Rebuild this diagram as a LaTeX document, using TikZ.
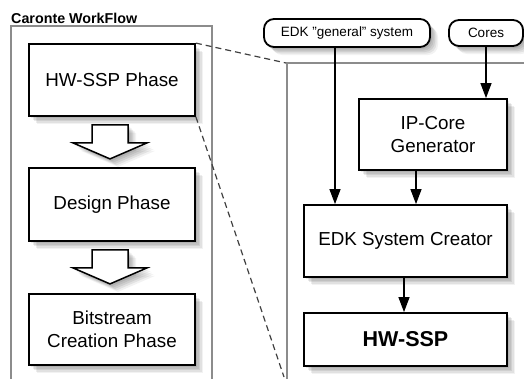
\documentclass[tikz,border=0pt]{standalone}
\usepackage{fontspec}
\setmainfont{Liberation Sans}
\usetikzlibrary{calc,arrows.meta}

\tikzset{
  softshadow/.style={
    preaction={fill=black,opacity=0.08,transform canvas={shift={(2pt,-2pt)}}},
    preaction={fill=black,opacity=0.08,transform canvas={shift={(3.5pt,-3.5pt)}}},
    preaction={fill=black,opacity=0.08,transform canvas={shift={(5pt,-5pt)}}},
    preaction={fill=black,opacity=0.07,transform canvas={shift={(6.5pt,-6.5pt)}}},
    preaction={fill=black,opacity=0.05,transform canvas={shift={(8pt,-8pt)}}}
  },
  phasebox/.style={draw=black,line width=1.8pt,fill=white,softshadow,
    align=center,inner sep=0pt,font=\fontsize{18.8}{23}\selectfont},
  inputbox/.style={draw=black,line width=1.8pt,fill=white,softshadow,rounded corners=10pt,
    inner sep=0pt,font=\fontsize{13.5}{15}\selectfont},
  frame/.style={draw=black!45,line width=1.5pt},
  link/.style={draw=black!75,line width=1.2pt,dash pattern=on 6pt off 4pt},
  conn/.style={line width=1.2pt,-{Triangle[length=15pt,width=11pt]}},
  fatarrow/.style={draw=black,line width=1.5pt,fill=white,softshadow,line join=miter},
}

\begin{document}
\begin{tikzpicture}[x=1pt,y=-1pt]
  \useasboundingbox (0,0) rectangle (524,378);
  \clip (0,0) rectangle (524,378);

  % workflow panel
  \node[anchor=base west,inner sep=0pt,font=\fontsize{14.3}{16}\selectfont\bfseries]
    (title) at (11,23) {Caronte WorkFlow};
  \draw[frame] (11,390) -- (11,26) -- (212,26) -- (212,390);

  \node[phasebox,minimum width=166,minimum height=72] (hwp) at (112,80) {HW-SSP Phase};
  \node[phasebox,minimum width=166,minimum height=73] (dp) at (112,204.5) {Design Phase};
  \node[phasebox,minimum width=166,minimum height=71] (bp) at (112,329.5) {Bitstream\\Creation Phase};

  % hollow arrows between the phases
  \foreach \u/\w in {hwp/dp,dp/bp}{
    \coordinate (s) at ($(\u.south)+(-2,8)$);
    \draw[fatarrow] ($(s)+(-18,0)$) -- ($(s)+(18,0)$) -- ($(s)+(18,18)$)
      -- ($(s)+(37,18)$) -- ($(s)+(0,34)$) -- ($(s)+(-37,18)$)
      -- ($(s)+(-18,18)$) -- cycle;
  }

  % detail panel of the HW-SSP phase
  \coordinate (ptl) at (286,63);
  \coordinate (pbl) at (284,377);
  \draw[frame] (287,390) -- (287,63) -- (540,63);
  \draw[link] (hwp.north east) -- (ptl);
  \draw[link] (hwp.south east) -- (pbl);

  \node[inputbox,minimum width=166,minimum height=28] (gen) at (347,33) {EDK "general" system};
  \node[inputbox,minimum width=74,minimum height=26] (cores) at (486,33) {Cores};

  \node[phasebox,minimum width=148,minimum height=71] (ip) at (433,134.5) {IP-Core\\Generator};
  \node[phasebox,minimum width=203,minimum height=72] (sc) at (405.5,241) {EDK System Creator};
  \node[phasebox,minimum width=203,minimum height=53,font=\fontsize{21.5}{24}\selectfont\bfseries]
    (hw) at (405.5,339.5) {HW-SSP};

  \draw[conn] (cores.south) -- (cores.south |- ip.north);
  \draw[conn] ([xshift=-12pt]gen.south) -- ([xshift=-12pt]gen.south |- sc.north);
  \draw[conn] ([xshift=-17pt]ip.south) -- ([xshift=-17pt]ip.south |- sc.north);
  \draw[conn] ([xshift=-1.5pt]sc.south) -- ([xshift=-1.5pt]hw.north);
\end{tikzpicture}
\end{document}
